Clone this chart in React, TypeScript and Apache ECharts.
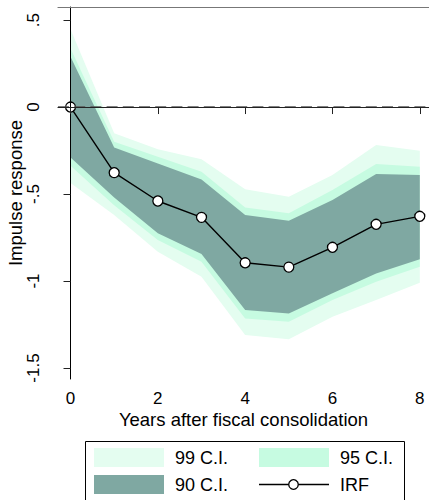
import React, { useEffect, useRef } from "react";
import * as echarts from "echarts";

const years = [0, 1, 2, 3, 4, 5, 6, 7, 8];
const irf = [0, -0.377, -0.54, -0.634, -0.895, -0.92, -0.806, -0.674, -0.628];
const upper99 = [0.447, -0.151, -0.243, -0.3, -0.473, -0.515, -0.391, -0.218, -0.251];
const upper95 = [0.337, -0.199, -0.285, -0.372, -0.577, -0.611, -0.477, -0.328, -0.343];
const upper90 = [0.289, -0.232, -0.324, -0.416, -0.621, -0.653, -0.534, -0.385, -0.391];
const lower90 = [-0.29, -0.52, -0.726, -0.845, -1.167, -1.186, -1.07, -0.956, -0.875];
const lower95 = [-0.338, -0.565, -0.764, -0.889, -1.215, -1.234, -1.109, -1.004, -0.918];
const lower99 = [-0.436, -0.62, -0.831, -0.975, -1.31, -1.335, -1.205, -1.109, -1.01];
const xTicks = [0, 2, 4, 6, 8];
const yTicks = [-1.5, -1, -0.5, 0, 0.5];
const legendNames = ["99 C.I.", "95 C.I.", "90 C.I.", "IRF"];

const C99 = "#e4fdf0";
const C95 = "#c6fbe1";
const C90 = "#7fa8a2";
const FONT = "'Liberation Sans', Arial, Helvetica, sans-serif";

function bandSeries(name: string, lo: number[], hi: number[], color: string) {
  return {
    name,
    type: "custom",
    z: 2,
    silent: true,
    itemStyle: { color },
    data: years.map((x, i) => [x, lo[i], hi[i]]),
    encode: { x: 0, y: [1, 2] },
    renderItem: (params: any, api: any) => {
      if (params.dataIndex !== 0) return null;
      const pts: number[][] = [];
      for (let i = 0; i < years.length; i++) pts.push(api.coord([years[i], hi[i]]));
      for (let i = years.length - 1; i >= 0; i--) pts.push(api.coord([years[i], lo[i]]));
      return { type: "polygon", shape: { points: pts }, style: { fill: color } };
    },
  };
}

function fmtY(v: number) {
  if (v === 0) return "0";
  const s = String(Math.abs(v)).replace(/^0/, "");
  return (v < 0 ? "-" : "") + s;
}

function legendGraphic() {
  const els: any[] = [];
  els.push({
    type: "rect",
    shape: { x: 85.5, y: 441.5, width: 319, height: 64 },
    style: { fill: "#fff", stroke: "#000", lineWidth: 1 },
    z: 10,
  });
  const cols = [94, 259];
  const rows = [448, 475];
  const colors = [C99, C95, C90];
  const pos = [
    [0, 0],
    [1, 0],
    [0, 1],
    [1, 1],
  ];
  legendNames.forEach((name, k) => {
    const [c, r] = pos[k];
    const x = cols[c];
    const y = rows[r];
    if (k < 3) {
      els.push({
        type: "rect",
        shape: { x, y, width: 70, height: 19 },
        style: { fill: colors[k] },
        z: 11,
      });
    } else {
      els.push({
        type: "line",
        shape: { x1: x, y1: y + 9.5, x2: x + 70, y2: y + 9.5 },
        style: { stroke: "#000", lineWidth: 1.4 },
        z: 11,
      });
      els.push({
        type: "circle",
        shape: { cx: x + 34.5, cy: y + 9.5, r: 4.8 },
        style: { fill: "#fff", stroke: "#000", lineWidth: 1.3 },
        z: 12,
      });
    }
    els.push({
      type: "text",
      x: x + 81,
      y: y + 10,
      style: {
        text: name,
        fontSize: 18,
        fontFamily: FONT,
        fill: "#000",
        textAlign: "left",
        textVerticalAlign: "middle",
      },
      z: 12,
    });
  });
  return els;
}

export default function App() {
  const ref = useRef<HTMLDivElement>(null);
  useEffect(() => {
    if (!ref.current) return;
    const chart = echarts.init(ref.current, undefined, { renderer: "svg" });
    const xMin = -0.287;
    const xMax = 8.211;
    chart.setOption({
      animation: false,
      textStyle: { fontFamily: FONT },
      grid: {
        left: 58,
        top: 7,
        right: 0,
        bottom: 121,
        containLabel: false,
        outerBoundsMode: "none",
      },
      xAxis: [
        {
          type: "value",
          min: xMin,
          max: xMax,
          position: "bottom",
          z: 5,
          splitLine: { show: false },
          axisLine: { show: true, lineStyle: { color: "#222", width: 1.2 } },
          axisTick: { show: true, customValues: xTicks, length: 7, lineStyle: { color: "#222" } },
          axisLabel: {
            customValues: xTicks,
            fontSize: 17,
            color: "#000",
            margin: 11,
            fontFamily: FONT,
          },
          name: "Years after fiscal consolidation",
          nameLocation: "middle",
          nameGap: 31,
          nameMoveOverlap: false,
          nameTextStyle: { fontSize: 18.5, color: "#000", fontFamily: FONT },
        },
        {
          type: "value",
          min: xMin,
          max: xMax,
          position: "top",
          z: 5,
          splitLine: { show: false },
          axisLine: { show: true, lineStyle: { color: "#777", width: 1.2 } },
          axisTick: { show: false },
          axisLabel: { show: false },
        },
      ],
      yAxis: {
        type: "value",
        min: -1.563,
        max: 0.575,
        z: 5,
        splitLine: { show: false },
        axisLine: { show: true, lineStyle: { color: "#000", width: 1 } },
        axisTick: { show: true, customValues: yTicks, length: 7, lineStyle: { color: "#222" } },
        axisLabel: {
          customValues: yTicks,
          rotate: 90,
          formatter: fmtY,
          fontSize: 17,
          color: "#000",
          margin: 16,
          fontFamily: FONT,
        },
        name: "Impulse response",
        nameLocation: "middle",
        nameGap: 33,
        nameMoveOverlap: false,
        nameTextStyle: { fontSize: 18.5, color: "#000", fontFamily: FONT },
      },
      graphic: legendGraphic(),
      series: [
        {
          name: "zero",
          type: "line",
          data: irf.map((v, i) => [years[i], v]),
          symbol: "none",
          z: 1,
          lineStyle: { width: 0, opacity: 0 },
          silent: true,
          markLine: {
            silent: true,
            symbol: ["none", "none"],
            label: { show: false },
            lineStyle: { type: [11, 5.2], color: "#555", width: 1.6 },
            data: [{ yAxis: 0 }],
          },
        },
        bandSeries(legendNames[0], lower99, upper99, C99),
        bandSeries(legendNames[1], lower95, upper95, C95),
        bandSeries(legendNames[2], lower90, upper90, C90),
        {
          name: legendNames[3],
          type: "line",
          data: irf.map((v, i) => [years[i], v]),
          z: 3,
          symbol: "circle",
          symbolSize: 10,
          lineStyle: { color: "#000", width: 1.4 },
          itemStyle: { color: "#fff", borderColor: "#000", borderWidth: 1.3 },
        },
      ],
    });
    return () => chart.dispose();
  }, []);
  return (
    <div
      ref={ref}
      style={{ position: "fixed", left: 0, top: 0, width: 429, height: 500, background: "#fff" }}
    />
  );
}
